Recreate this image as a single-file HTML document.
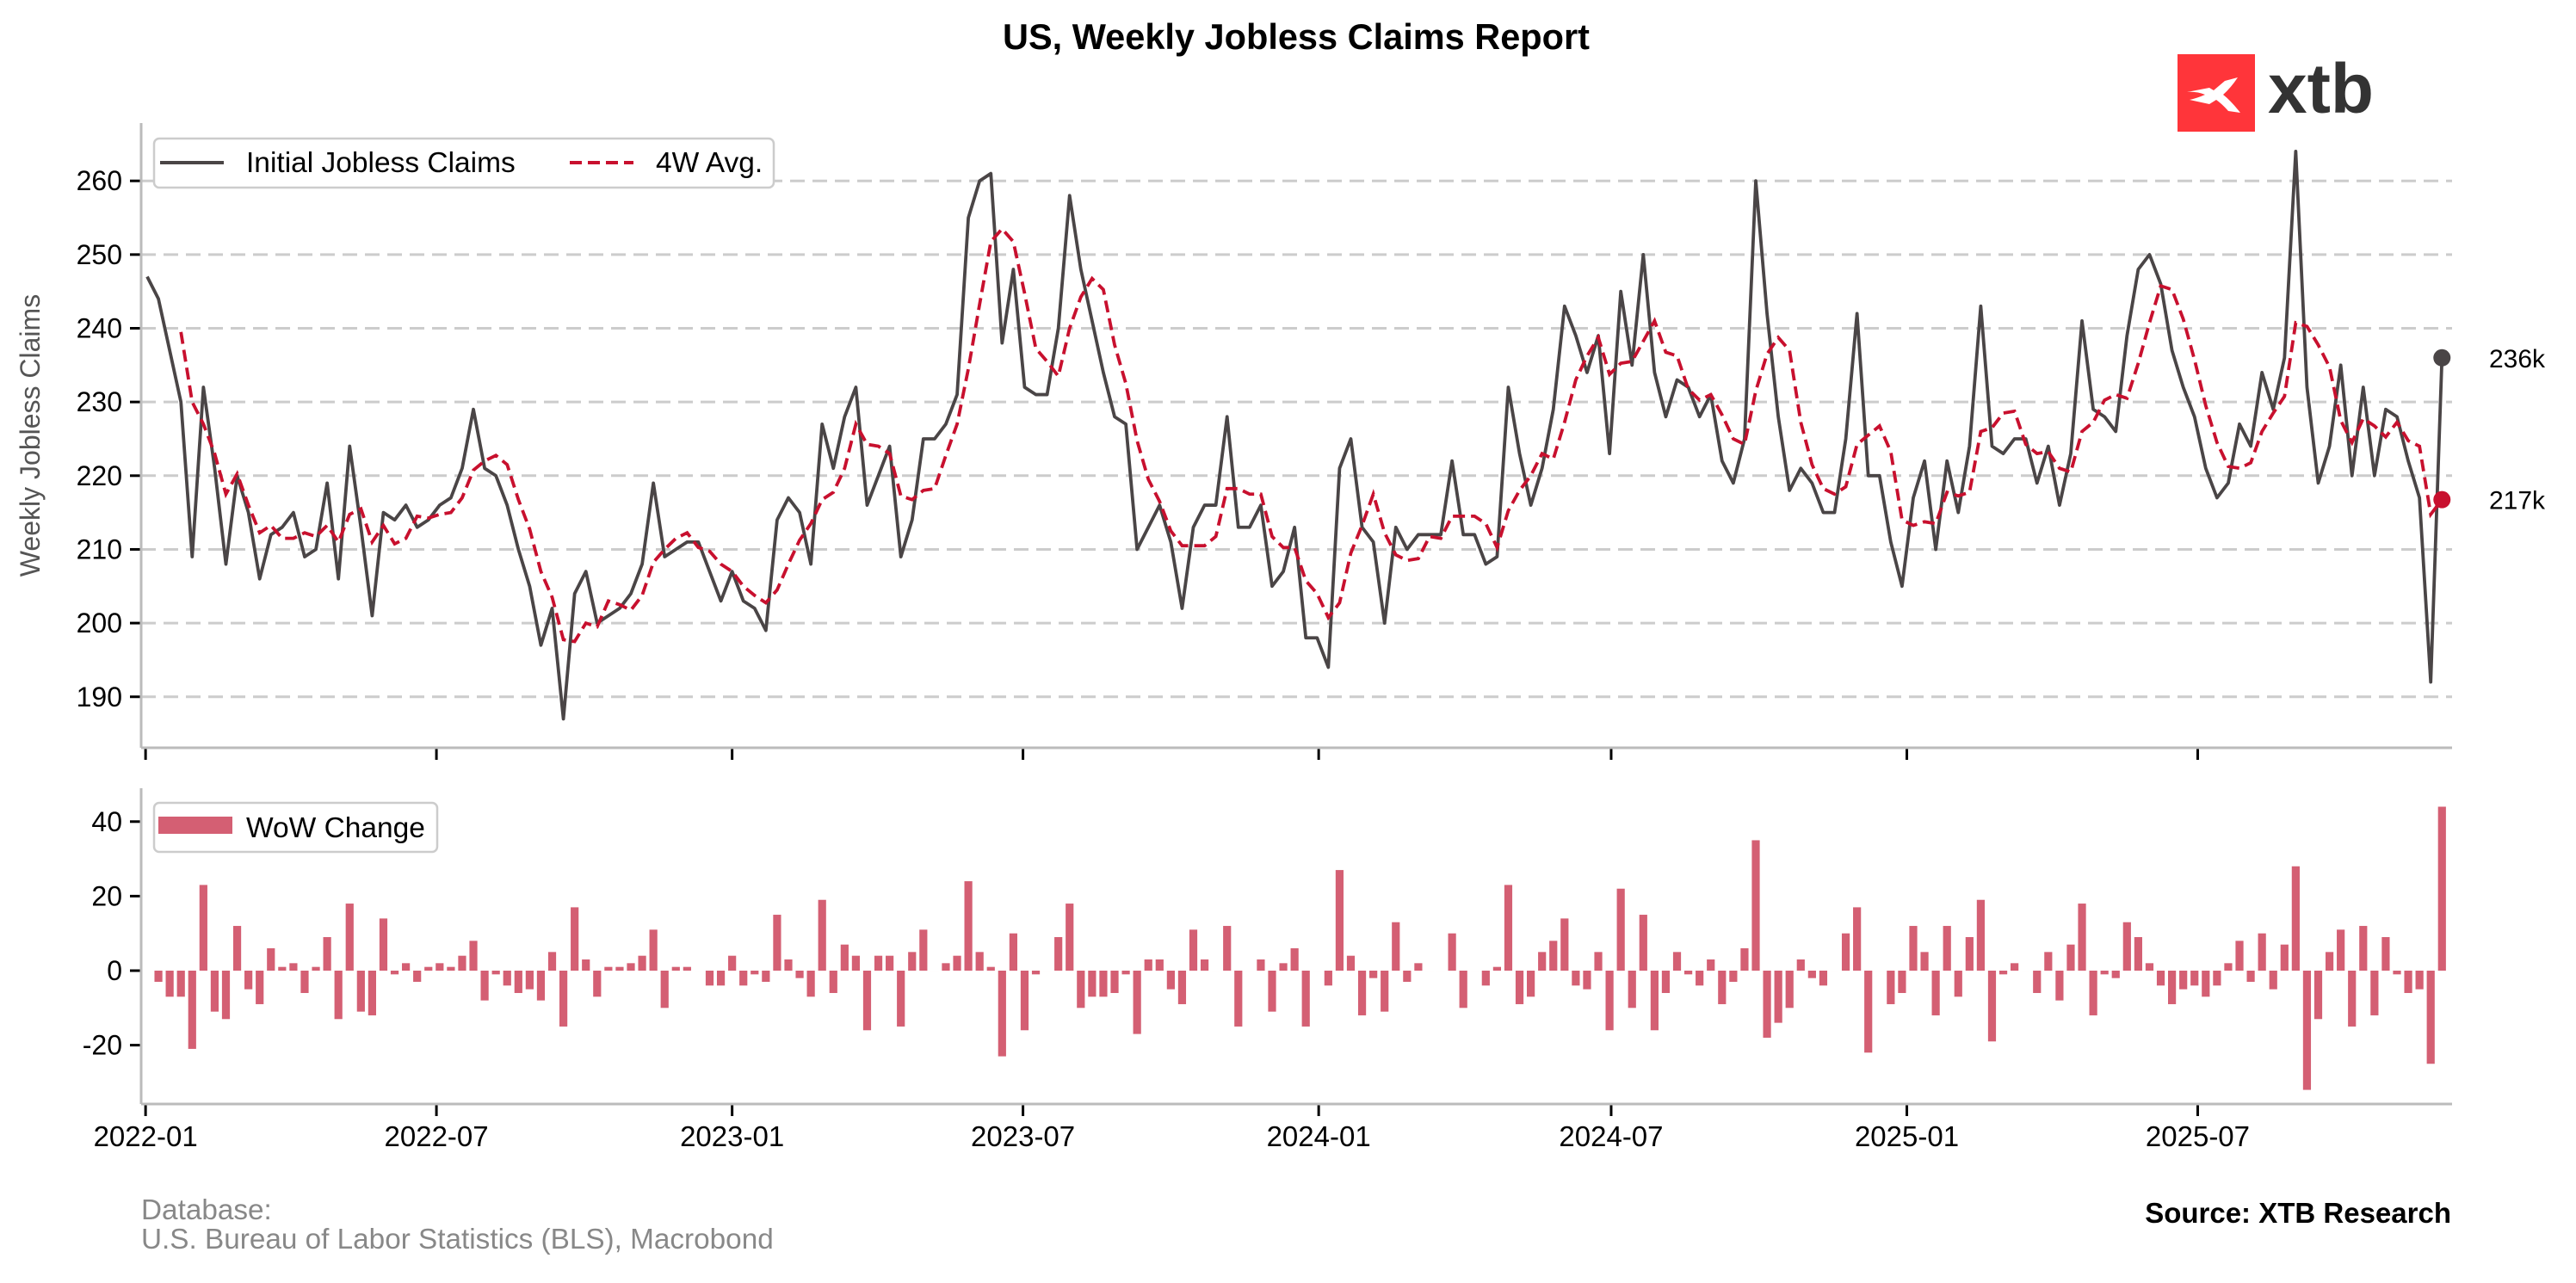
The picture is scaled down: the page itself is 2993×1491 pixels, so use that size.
<!DOCTYPE html>
<html><head><meta charset="utf-8"><style>
html,body{margin:0;padding:0;background:#fff;}
svg{display:block;font-family:"Liberation Sans",Arial,sans-serif;}
</style></head><body>
<svg id="chart" width="2993" height="1491" viewBox="0 0 2993 1491" xmlns="http://www.w3.org/2000/svg">
<rect width="2993" height="1491" fill="#fff"/>
<text x="1506" y="57" text-anchor="middle" font-size="41.5" font-weight="bold" fill="#000">US, Weekly Jobless Claims Report</text>
<g>
<rect x="2530" y="63" width="90" height="90" fill="#ff353a"/>
<path d="M2541 107 L2567 102 L2572 105 L2585 94 L2600 90 Q2592 102 2583 110 Q2592 117 2603 131 L2589 129 Q2582 121 2575 116 L2567 121 L2544 116 Q2553 114 2562 110 Q2552 106 2541 107 Z" fill="#fff"/>
<text x="2635" y="131" font-size="82" font-weight="bold" fill="#333">xtb</text>
</g>
<g id="top-grid"></g>
<g id="bars"></g>
<g id="lines"></g>
<g id="axes"></g>
<g>
<rect x="179" y="161" width="720" height="57" rx="6" fill="#fff" stroke="#cccccc" stroke-width="2.5"/>
<line x1="186" y1="189" x2="260" y2="189" stroke="#4a4546" stroke-width="4"/>
<text x="286" y="200" font-size="33.5" fill="#000">Initial Jobless Claims</text>
<line x1="662" y1="189" x2="736" y2="189" stroke="#c8102e" stroke-width="4" stroke-dasharray="14,7"/>
<text x="762" y="200" font-size="33.5" fill="#000">4W Avg.</text>
</g>
<g>
<rect x="179" y="933" width="329" height="57" rx="6" fill="#fff" stroke="#cccccc" stroke-width="2.5"/>
<rect x="184" y="949" width="86" height="20" fill="#d45f73"/>
<text x="286" y="973" font-size="33.5" fill="#000">WoW Change</text>
</g>
<text transform="translate(46,506) rotate(-90)" text-anchor="middle" font-size="32" fill="#555">Weekly Jobless Claims</text>
<text x="164" y="1417" font-size="33.3" fill="#888">Database:</text>
<text x="164" y="1451" font-size="33.3" fill="#888">U.S. Bureau of Labor Statistics (BLS), Macrobond</text>
<text x="2848" y="1421" text-anchor="end" font-size="33" font-weight="bold" fill="#000">Source: XTB Research</text>
</svg>
<script>
const claims = [247,244,237,230,209,232,221,208,220,215,206,212,213,215,209,210,219,206,224,213,201,215,214,216,213,214,216,217,221,229,221,220,216,210,205,197,202,187,204,207,200,201,202,204,208,219,209,210,211,211,207,203,207,203,202,
199,214,217,215,208,227,221,228,232,216,220,224,209,214,225,225,227,231,255,260,261,238,248,232,231,231,240,258,248,241,234,228,227,210,213,216,211,202,213,216,216,228,213,213,216,205,207,213,198,198,194,221,225,
213,211,200,213,210,212,212,212,222,212,212,208,209,232,223,216,221,229,243,239,234,239,223,245,235,250,234,228,233,232,228,231,222,219,225,260,242,228,218,221,219,215,215,225,242,220,220,211,205,217,222,210,222,215,
224,243,224,223,225,225,219,224,216,223,241,229,228,226,239,248,250,246,237,232,228,221,217,219,227,224,234,229,236,264,232,219,224,235,220,232,220,229,228,222,217,192,236];
const topTicks = [190,200,210,220,230,240,250,260];
const botTicks = [-20,0,20,40];
const xTickLabels = ["2022-01","2022-07","2023-01","2023-07","2024-01","2024-07","2025-01","2025-07"];
const xTickDates = ["2022-01-01","2022-07-01","2023-01-01","2023-07-01","2024-01-01","2024-07-01","2025-01-01","2025-07-01"];

const NS="http://www.w3.org/2000/svg";
function mk(tag, attrs, parent){const e=document.createElementNS(NS,tag);for(const k in attrs)e.setAttribute(k,attrs[k]);parent.appendChild(e);return e;}
const X0=171, STEP=13.07, LEFT=164, RIGHT=2849, BOTB=1283;
function xIdx(i){return X0+i*STEP;}
function xDate(s){const d=(Date.parse(s)-Date.parse("2022-01-02"))/86400000;return X0+d/7*STEP;}
function yTop(v){return 210.2+(260-v)*8.565;}
function yBot(v){return 1128-v*4.33;}

const avg=[];for(let i=3;i<claims.length;i++){avg.push([i,(claims[i]+claims[i-1]+claims[i-2]+claims[i-3])/4]);}
const change=[];for(let i=1;i<claims.length;i++){change.push([i,claims[i]-claims[i-1]]);}

const tg=document.getElementById('top-grid'), ax=document.getElementById('axes'), ln=document.getElementById('lines'), bg=document.getElementById('bars');
topTicks.forEach(v=>{
  const g=mk('line',{x1:LEFT,x2:RIGHT,y1:yTop(v),y2:yTop(v),stroke:'#cccccc','stroke-width':3,'stroke-dasharray':'17,9'},tg);
  
  
  mk('line',{x1:LEFT-13,x2:LEFT,y1:yTop(v),y2:yTop(v),stroke:'#000','stroke-width':3},ax);
  const t=mk('text',{x:LEFT-22,y:yTop(v)+11,'text-anchor':'end','font-size':32,fill:'#000'},ax);t.textContent=v;
  
  
});
botTicks.forEach(v=>{
  mk('line',{x1:LEFT-13,x2:LEFT,y1:yBot(v),y2:yBot(v),stroke:'#000','stroke-width':3},ax);
  const t=mk('text',{x:LEFT-22,y:yBot(v)+11,'text-anchor':'end','font-size':32,fill:'#000'},ax);t.textContent=v;
  
  
});
xTickDates.forEach((d,k)=>{
  const x=xDate(d);
  mk('line',{x1:x,x2:x,y1:869,y2:883,stroke:'#000','stroke-width':3},ax);
  mk('line',{x1:x,x2:x,y1:BOTB,y2:BOTB+14,stroke:'#000','stroke-width':3},ax);
  const t=mk('text',{x:x,y:1332,'text-anchor':'middle','font-size':33,fill:'#000'},ax);t.textContent=xTickLabels[k];
  
  
});
mk('line',{x1:LEFT,x2:LEFT,y1:143,y2:869,stroke:'#bbbbbb','stroke-width':3},ax);
mk('line',{x1:LEFT,x2:RIGHT,y1:869,y2:869,stroke:'#bbbbbb','stroke-width':3},ax);
mk('line',{x1:LEFT,x2:LEFT,y1:916,y2:BOTB,stroke:'#bbbbbb','stroke-width':3},ax);
mk('line',{x1:LEFT,x2:RIGHT,y1:BOTB,y2:BOTB,stroke:'#bbbbbb','stroke-width':3},ax);

change.forEach(([i,v])=>{
  const y0=yBot(0), y1=yBot(v);
  const r=mk('rect',{x:xIdx(i)-4.6,y:Math.min(y0,y1),width:9.2,height:Math.max(Math.abs(y1-y0),0.01),fill:'#d45f73'},bg);
  
  
});
const p1=mk('polyline',{points:claims.map((v,i)=>xIdx(i)+','+yTop(v)).join(' '),fill:'none',stroke:'#4a4546','stroke-width':3.8,'stroke-linejoin':'round'},ln);


const p2=mk('polyline',{points:avg.map(([i,v])=>xIdx(i)+','+yTop(v)).join(' '),fill:'none',stroke:'#c8102e','stroke-width':3.8,'stroke-dasharray':'14,7'},ln);


const li=claims.length-1, lastAvg=avg[avg.length-1][1];
const d1=mk('circle',{cx:xIdx(li),cy:yTop(claims[li]),r:10,fill:'#4a4546'},ln);


const d2=mk('circle',{cx:xIdx(li),cy:yTop(lastAvg),r:10,fill:'#c8102e'},ln);


const l1=mk('text',{x:2892,y:yTop(claims[li])+11,'font-size':30,fill:'#000'},ln);l1.textContent=Math.round(claims[li])+'k';


const l2=mk('text',{x:2892,y:yTop(lastAvg)+11,'font-size':30,fill:'#000'},ln);l2.textContent=Math.round(lastAvg)+'k';


</script>
</body></html>
